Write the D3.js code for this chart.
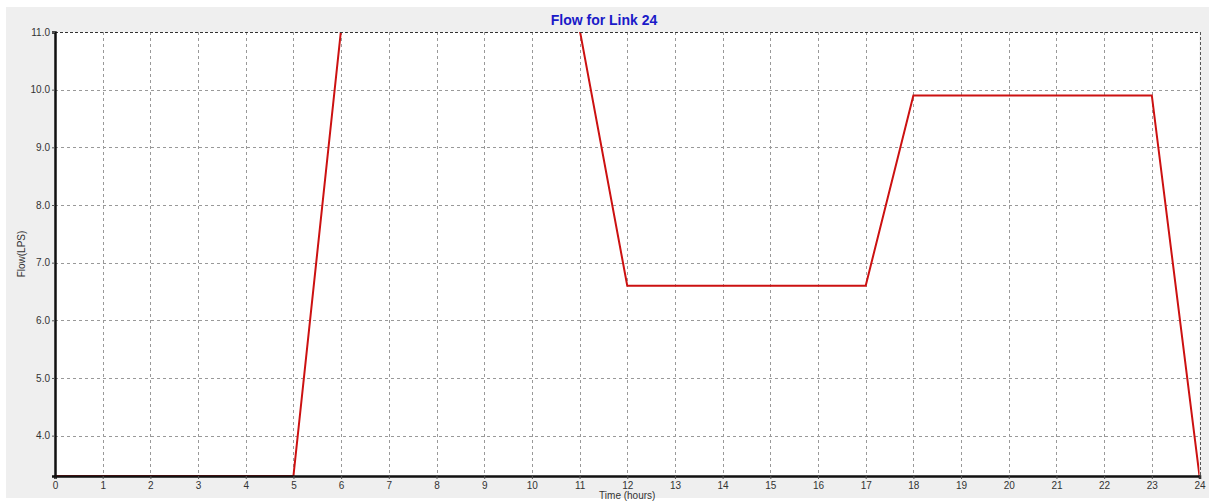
<!DOCTYPE html>
<html>
<head>
<meta charset="utf-8">
<script src="https://cdn.jsdelivr.net/npm/d3@7/dist/d3.min.js"></script>
<style>
html,body{margin:0;padding:0;background:#fff;}
svg{display:block;}
text{font-family:"Liberation Sans",Arial,sans-serif;}
</style>
</head>
<body>
<svg id="chart" width="1209" height="502"></svg>
<script>
const title = "Flow for Link 24";
const xLabel = "Time (hours)";
const yLabel = "Flow(LPS)";
const hours = [0,1,2,3,4,5,6,7,8,9,10,11,12,13,14,15,16,17,18,19,20,21,22,23,24];
const flow  = [3.3,3.3,3.3,3.3,3.3,3.3,11.05,13.2,13.2,13.2,13.2,11.05,6.6,6.6,6.6,6.6,6.6,6.6,9.9,9.9,9.9,9.9,9.9,9.9,3.3];
const xTicks = d3.range(0,25,1);
const yTicks = [4,5,6,7,8,9,10,11];
const yDomain = [3.3, 11];

const svg = d3.select("#chart");
const W = 1209, H = 502;
const m = {left:55, right:9, top:32, bottom:26};

svg.append("rect").attr("x",6).attr("y",7).attr("width",W-6).attr("height",491).attr("fill","#efefef");

const x = d3.scaleLinear().domain([0,24]).range([m.left, W-m.right-0.5]);
const y = d3.scaleLinear().domain(yDomain).range([H-m.bottom, m.top]);

svg.append("rect").attr("x",x(0)).attr("y",y(11)).attr("width",x(24)-x(0)).attr("height",y(yDomain[0])-y(11)).attr("fill","#fff");

// grid
const g = svg.append("g");
g.selectAll(".vg").data(xTicks.filter(d=>d>0&&d<24)).join("line")
  .attr("x1",d=>Math.round(x(d))+0.5).attr("x2",d=>Math.round(x(d))+0.5)
  .attr("y1",y(11)).attr("y2",y(yDomain[0]))
  .attr("stroke","#999").attr("stroke-width",1).attr("stroke-dasharray","3,3");
g.selectAll(".hg").data(yTicks.filter(d=>d<11)).join("line")
  .attr("y1",d=>Math.round(y(d))+0.5).attr("y2",d=>Math.round(y(d))+0.5)
  .attr("x1",x(0)).attr("x2",x(24))
  .attr("stroke","#999").attr("stroke-width",1).attr("stroke-dasharray","3,3");

// clip + line
svg.append("clipPath").attr("id","clip").append("rect")
  .attr("x",x(0)).attr("y",y(11)).attr("width",x(24)-x(0)).attr("height",y(yDomain[0])-y(11));
const line = d3.line().x((d,i)=>x(hours[i])).y(d=>y(d));
svg.append("path").datum(flow).attr("clip-path","url(#clip)")
  .attr("d",line).attr("fill","none").attr("stroke","#cc1111").attr("stroke-width",2);

// borders top/right dashed
svg.append("line").attr("x1",x(0)).attr("x2",x(24)).attr("y1",Math.round(y(11))+0.5).attr("y2",Math.round(y(11))+0.5)
  .attr("stroke","#333").attr("stroke-dasharray","3,2");
svg.append("line").attr("x1",Math.round(x(24))+0.5).attr("x2",Math.round(x(24))+0.5).attr("y1",y(11)).attr("y2",y(yDomain[0]))
  .attr("stroke","#555").attr("stroke-dasharray","3,2");

// axes
const xAxis = d3.axisBottom(x).tickValues(xTicks).tickSize(3).tickPadding(3).tickFormat(d3.format("d"));
const gx = svg.append("g").attr("transform",`translate(0,${y(yDomain[0])})`).call(xAxis);
gx.select(".domain").attr("stroke","#111").attr("stroke-width",2.5);
gx.selectAll(".tick line").attr("stroke","#555");
gx.selectAll("text").attr("font-size",10).attr("fill","#333").attr("font-family","Liberation Sans, Arial, sans-serif");

const yAxis = d3.axisLeft(y).tickValues(yTicks).tickSize(3).tickPadding(2).tickFormat(d3.format(".1f"));
const gy = svg.append("g").attr("transform",`translate(${x(0)},0)`).call(yAxis);
gy.select(".domain").attr("stroke","#111").attr("stroke-width",2.5);
gy.selectAll(".tick line").attr("stroke","#555");
gy.selectAll("text").attr("font-size",10).attr("fill","#333").attr("font-family","Liberation Sans, Arial, sans-serif");

// labels
svg.append("text").attr("x",604).attr("y",25).attr("text-anchor","middle")
  .attr("font-size",14).attr("font-weight","bold").attr("fill","#1a1ac8").text(title);
svg.append("text").attr("x",(x(0)+x(24))/2).attr("y",499).attr("text-anchor","middle")
  .attr("font-size",10).attr("fill","#333").text(xLabel);
svg.append("text").attr("transform",`translate(25,${(y(11)+y(yDomain[0]))/2}) rotate(-90)`)
  .attr("text-anchor","middle").attr("font-size",10).attr("fill","#333").text(yLabel);
</script>
</body>
</html>
